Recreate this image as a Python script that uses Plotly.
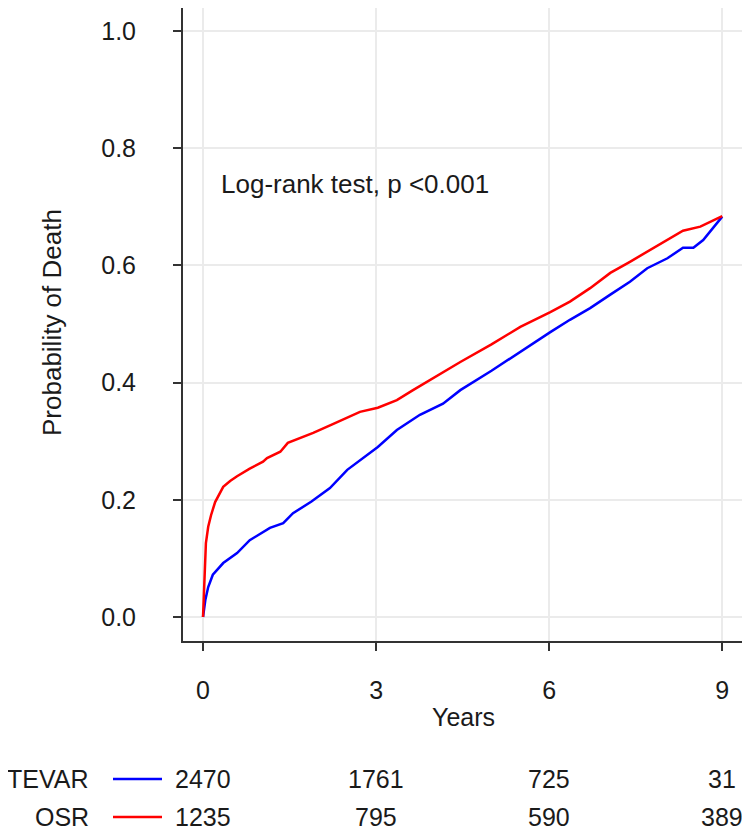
import plotly.graph_objects as go

# ---- data ----
tevar_t = [0, 0.02, 0.04, 0.09, 0.17, 0.35, 0.59, 0.81, 1.16, 1.39, 1.56, 1.88, 2.2, 2.5,
           3.03, 3.36, 3.76, 4.16, 4.46, 5.0, 5.5, 6.02, 6.36, 6.71, 7.06, 7.4, 7.7,
           8.05, 8.32, 8.5, 8.67, 8.79, 8.91, 9.0]
tevar_p = [0.0, 0.015, 0.029, 0.051, 0.072, 0.092, 0.109, 0.131, 0.152, 0.16, 0.177, 0.197,
           0.22, 0.251, 0.29, 0.319, 0.345, 0.364, 0.387, 0.42, 0.453, 0.486, 0.507, 0.527,
           0.55, 0.572, 0.595, 0.612, 0.63, 0.63, 0.643, 0.657, 0.672, 0.683]

osr_t = [0, 0.01, 0.02, 0.05, 0.09, 0.14, 0.21, 0.29, 0.35, 0.47, 0.59, 0.81, 1.04, 1.11,
         1.34, 1.47, 1.91, 2.25, 2.72, 3.03, 3.36, 3.64, 3.99, 4.46, 5.0, 5.5, 6.02, 6.36,
         6.71, 7.06, 7.4, 7.75, 8.05, 8.32, 8.62, 8.84, 9.0]
osr_p = [0.0, 0.03, 0.068, 0.126, 0.154, 0.174, 0.196, 0.211, 0.222, 0.232, 0.24, 0.253,
         0.265, 0.271, 0.282, 0.297, 0.314, 0.329, 0.35, 0.357, 0.37, 0.387, 0.408, 0.435,
         0.465, 0.495, 0.52, 0.538, 0.561, 0.587, 0.606, 0.626, 0.643, 0.659, 0.666, 0.677,
         0.684]

x_ticks = [0, 3, 6, 9]
y_ticks = [0.0, 0.2, 0.4, 0.6, 0.8, 1.0]
groups = ["TEVAR", "OSR"]
at_risk_tevar = [2470, 1761, 725, 31]
at_risk_osr = [1235, 795, 590, 389]

BLUE = "#0000ff"
RED = "#ff0000"
FONT = "Liberation Sans, Arial, sans-serif"
TXT = "#1a1a1a"
FS = 25

# page body has an 8px margin: build the figure 8px smaller and shift targets by 8
OFF = 8
W, H = 750 - OFF, 831 - OFF
L, R, T, B = 175, 7, 0, 190
PW, PH = W - L - R, H - T - B


def px_x(p):
    return (p - OFF - L) / PW


def px_y(p):
    return (H - B - (p - OFF)) / PH


fig = go.Figure()
fig.add_trace(go.Scatter(x=tevar_t, y=tevar_p, mode="lines", name="TEVAR",
                         line=dict(color=BLUE, width=2.5)))
fig.add_trace(go.Scatter(x=osr_t, y=osr_p, mode="lines", name="OSR",
                         line=dict(color=RED, width=2.5)))

fig.update_layout(
    width=W, height=H, margin=dict(l=L, r=R, t=T, b=B, pad=0),
    paper_bgcolor="white", plot_bgcolor="white", showlegend=False,
    font=dict(family=FONT, size=FS, color=TXT),
)
fig.update_xaxes(range=[-0.347, 9.36], tickvals=x_ticks, ticks="outside", ticklen=8,
                 tickwidth=2, tickcolor="#333", showline=True, linecolor="#333", linewidth=2,
                 showgrid=True, gridcolor="#ebebeb", gridwidth=2, zeroline=False,
                 ticklabelstandoff=18, tickfont=dict(size=FS, color=TXT))
fig.update_yaxes(range=[-0.041, 1.039], tickvals=y_ticks, tickformat=".1f", ticks="outside",
                 ticklen=8, tickwidth=2, tickcolor="#333", showline=True, linecolor="#333",
                 linewidth=2, showgrid=True, gridcolor="#ebebeb", gridwidth=2, zeroline=False,
                 ticklabelstandoff=32, tickfont=dict(size=FS, color=TXT))

ann = []
ann.append(dict(text="Log-rank test, p <0.001", x=0.28, y=0.738, xref="x", yref="y",
                xanchor="left", yanchor="middle", showarrow=False, font=dict(size=26)))
ann.append(dict(text="Probability of Death", x=px_x(52), y=px_y(323), xref="paper",
                yref="paper", textangle=-90, xanchor="center", yanchor="middle",
                showarrow=False, font=dict(size=26)))
ann.append(dict(text="Years", x=0.5, y=px_y(717), xref="paper", yref="paper",
                xanchor="center", yanchor="middle", showarrow=False, font=dict(size=FS)))

rows_y = [779, 817]
colors = [BLUE, RED]
for g, ry, col, vals in zip(groups, rows_y, colors, [at_risk_tevar, at_risk_osr]):
    ann.append(dict(text=g, x=px_x(91), y=px_y(ry), xref="paper", yref="paper",
                    xanchor="right", yanchor="middle", showarrow=False, font=dict(size=FS)))
    fig.add_shape(type="line", xref="paper", yref="paper", x0=px_x(113), x1=px_x(162),
                  y0=px_y(ry), y1=px_y(ry), line=dict(color=col, width=2.5))
    for xv, v in zip(x_ticks, vals):
        ann.append(dict(text=str(v), x=xv, y=px_y(ry), xref="x", yref="paper",
                        xanchor="center", yanchor="middle", showarrow=False,
                        font=dict(size=FS)))

fig.update_layout(annotations=ann)
fig.write_html("out.html")
